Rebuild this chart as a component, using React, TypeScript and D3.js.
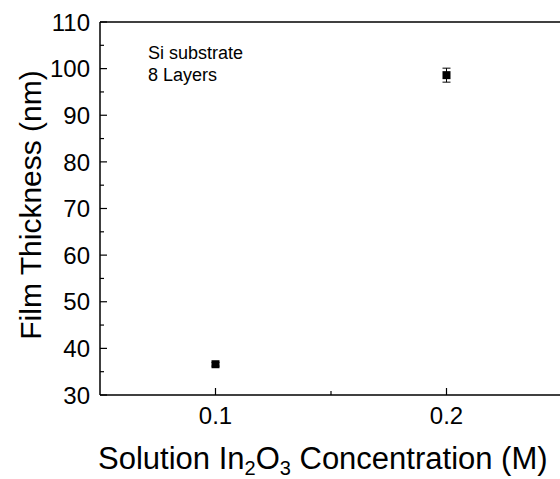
import React from "react";
import * as d3 from "d3";

const concentrations = [0.1, 0.2];
const thickness = [36.6, 98.6];
const thicknessErr = [0.4, 1.5];
const yTicks = [30, 40, 50, 60, 70, 80, 90, 100, 110];
const xTicks = [0.1, 0.2];
const annotations = ["Si substrate", "8 Layers"];

const W = 560;
const H = 479;
const M = { left: 100, top: 22, right: 562, bottom: 395 };
const FONT = "'Liberation Sans', Arial, sans-serif";

export default function App() {
  const x = d3.scaleLinear().domain([0.05, 0.25]).range([M.left, M.right]);
  const y = d3.scaleLinear().domain([30, 110]).range([M.bottom, M.top]);
  const yMinor = d3.range(35, 110, 10);
  const xMinor = [0.15];
  const sq = 8;

  return (
    <svg
      width={W}
      height={H}
      style={{ position: "absolute", left: 0, top: 0, background: "#fff" }}
      fontFamily={FONT}
    >
      {/* frame */}
      <line x1={M.left} x2={M.left} y1={M.top} y2={M.bottom} stroke="#000" strokeWidth={1.5} />
      <line x1={M.left} x2={W} y1={M.bottom} y2={M.bottom} stroke="#000" strokeWidth={1.5} />
      <line x1={M.left} x2={W} y1={M.top} y2={M.top} stroke="#000" strokeWidth={1.5} />

      {/* y ticks */}
      {yTicks.map((t) => (
        <g key={"y" + t}>
          <line x1={M.left} x2={M.left + 7} y1={y(t)} y2={y(t)} stroke="#000" strokeWidth={1.2} />
          <text x={M.left - 10} y={y(t)} dy="0.36em" textAnchor="end" fontSize={24}>
            {t}
          </text>
        </g>
      ))}
      {yMinor.map((t) => (
        <line key={"ym" + t} x1={M.left} x2={M.left + 4} y1={y(t)} y2={y(t)} stroke="#000" strokeWidth={1.2} />
      ))}

      {/* x ticks */}
      {xTicks.map((t) => (
        <g key={"x" + t}>
          <line x1={x(t)} x2={x(t)} y1={M.bottom} y2={M.bottom - 7} stroke="#000" strokeWidth={1.2} />
          <text x={x(t)} y={M.bottom + 20} dy="0.36em" textAnchor="middle" fontSize={24}>
            {t.toFixed(1)}
          </text>
        </g>
      ))}
      {xMinor.map((t) => (
        <line key={"xm" + t} x1={x(t)} x2={x(t)} y1={M.bottom} y2={M.bottom - 4} stroke="#000" strokeWidth={1.2} />
      ))}

      {/* data with error bars */}
      {concentrations.map((c, i) => {
        const cx = x(c);
        const cy = y(thickness[i]);
        const top = y(thickness[i] + thicknessErr[i]);
        const bot = y(thickness[i] - thicknessErr[i]);
        return (
          <g key={"p" + i}>
            <line x1={cx} x2={cx} y1={top} y2={bot} stroke="#000" strokeWidth={1} />
            <line x1={cx - 4} x2={cx + 4} y1={top} y2={top} stroke="#000" strokeWidth={1} />
            <line x1={cx - 4} x2={cx + 4} y1={bot} y2={bot} stroke="#000" strokeWidth={1} />
            <rect x={cx - sq / 2} y={cy - sq / 2} width={sq} height={sq} fill="#000" />
          </g>
        );
      })}

      {/* annotation */}
      {annotations.map((a, i) => (
        <text key={a} x={148} y={59 + i * 22} fontSize={18}>
          {a}
        </text>
      ))}

      {/* axis titles */}
      <text
        transform={`translate(41, 205) rotate(-90)`}
        textAnchor="middle"
        fontSize={30}
      >
        Film Thickness (nm)
      </text>
      <text x={98} y={469} textAnchor="start" fontSize={31}>
        Solution In
        <tspan dy={6} fontSize={20}>2</tspan>
        <tspan dy={-6}>O</tspan>
        <tspan dy={6} fontSize={20}>3</tspan>
        <tspan dy={-6}>{" Concentration (M)"}</tspan>
      </text>
    </svg>
  );
}
